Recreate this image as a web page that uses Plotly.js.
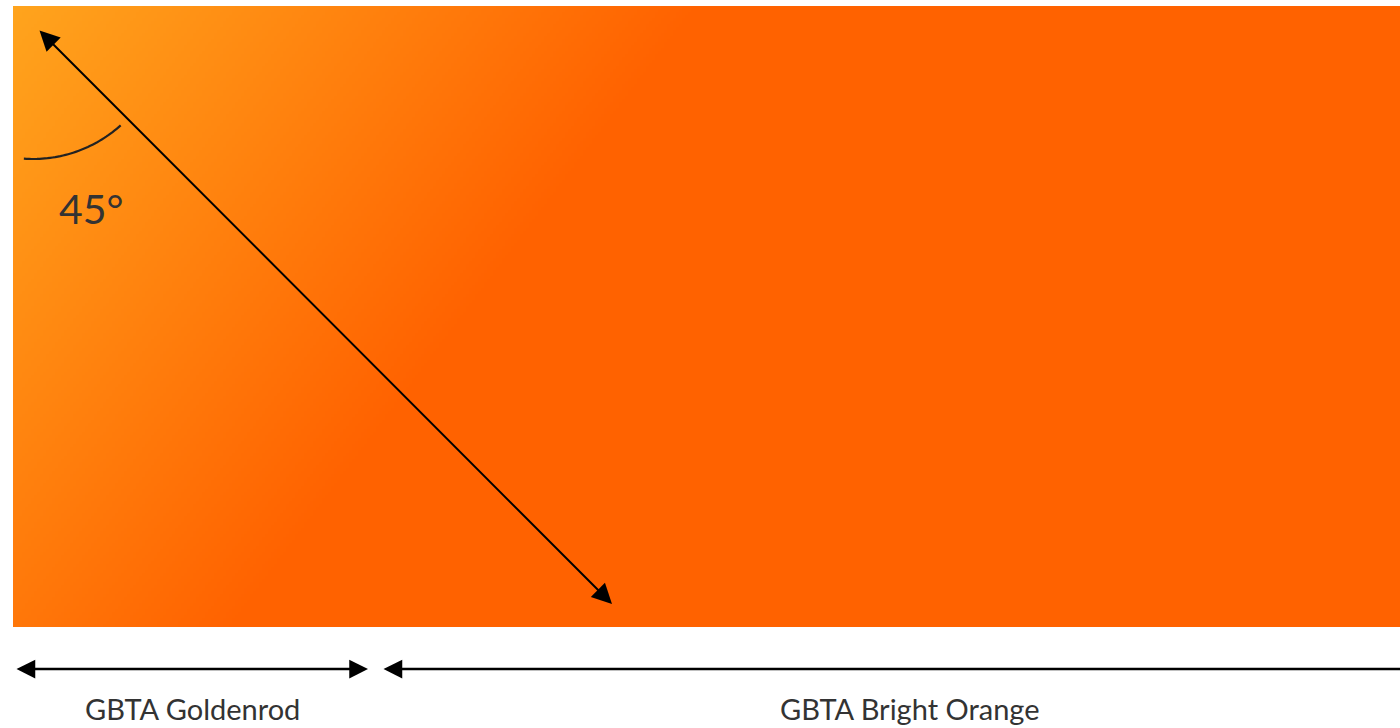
<!DOCTYPE html>
<html>
<head>
<meta charset="utf-8">
<script src="https://cdn.plot.ly/plotly-3.0.1.min.js"></script>
<style>html,body{margin:0;padding:0;background:#fff;}#chart{width:1400px;height:728px;}</style>
</head>
<body>
<div id="chart"></div>
<script>
// ---- values ----
const colorNames = ['GBTA Goldenrod', 'GBTA Bright Orange'];
const colorHex = ['#FFA41D', '#FF6200'];
const gradientStops = [0, 0.37, 1];      // goldenrod -> bright orange -> bright orange
const gradientAngleLabel = '45°';

// ---- geometry (page pixel space) ----
const W = 1400, H = 728;
const box = {x0: 13, y0: 6, x1: 1400, y1: 626};
const yWeight = 0.75;   // slope of the colour bands as seen in the picture
const step = 3;

const nx = Math.ceil((box.x1 - box.x0) / step);
const ny = Math.ceil((box.y1 - box.y0) / step);
const z = [];
for (let j = 0; j < ny; j++) {
  const row = [];
  const y = j * step + step / 2;
  for (let i = 0; i < nx; i++) {
    const x = i * step + step / 2;
    row.push(x + yWeight * y);
  }
  z.push(row);
}
const zmax = (box.x1 - box.x0) + yWeight * (box.y1 - box.y0);

const heat = {
  type: 'heatmap',
  z: z,
  x0: box.x0 + step / 2, dx: step,
  y0: box.y0 + step / 2, dy: step,
  zmin: 0, zmax: zmax,
  zsmooth: false,
  showscale: false,
  hoverinfo: 'skip',
  colorscale: [[gradientStops[0], colorHex[0]], [gradientStops[1], colorHex[1]], [gradientStops[2], colorHex[1]]]
};

// angle arc
const arc = {cx: 33, cy: 28, r: 131, a0: 94, a1: 48};
let path = '';
for (let k = 0; k <= 40; k++) {
  const a = (arc.a0 + (arc.a1 - arc.a0) * k / 40) * Math.PI / 180;
  const px = arc.cx + arc.r * Math.cos(a), py = arc.cy + arc.r * Math.sin(a);
  path += (k === 0 ? 'M' : 'L') + px.toFixed(2) + ',' + py.toFixed(2);
}

const arrowBase = {text: '', showarrow: true, axref: 'x', ayref: 'y', xref: 'x', yref: 'y',
  arrowcolor: '#000', arrowhead: 2, startarrowhead: 2, standoff: 0, startstandoff: 0};

const annotations = [
  Object.assign({}, arrowBase, {x: 612, y: 604, ax: 38, ay: 29, arrowside: 'end+start',
    arrowwidth: 2, arrowsize: 2.0, startarrowsize: 2.0}),
  Object.assign({}, arrowBase, {x: 368, y: 669, ax: 15, ay: 669, arrowside: 'end+start',
    arrowwidth: 2.5, arrowsize: 1.5, startarrowsize: 1.5}),
  Object.assign({}, arrowBase, {x: 1400, y: 669, ax: 382, ay: 669, arrowside: 'start',
    arrowwidth: 2.5, arrowsize: 1.5, startarrowsize: 1.5}),
  {text: gradientAngleLabel, showarrow: false, xref: 'x', yref: 'y', x: 91, y: 208,
    font: {family: 'Lato', size: 41, color: '#333333'}},
  {text: colorNames[0], showarrow: false, xref: 'x', yref: 'y', x: 192, y: 708,
    font: {family: 'Lato', size: 29, color: '#333333'}},
  {text: colorNames[1], showarrow: false, xref: 'x', yref: 'y', x: 910, y: 708,
    font: {family: 'Lato', size: 29, color: '#333333'}}
];

const layout = {
  width: W, height: H,
  margin: {l: 0, r: 0, t: 0, b: 0, pad: 0},
  paper_bgcolor: '#ffffff', plot_bgcolor: '#ffffff',
  xaxis: {range: [0, W], visible: false, fixedrange: true},
  yaxis: {range: [H, 0], visible: false, fixedrange: true},
  showlegend: false,
  hovermode: false,
  shapes: [{type: 'path', path: path, xref: 'x', yref: 'y', line: {color: '#222222', width: 2.2}}],
  annotations: annotations
};

Plotly.newPlot('chart', [heat], layout, {staticPlot: true, displayModeBar: false});
</script>
</body>
</html>
